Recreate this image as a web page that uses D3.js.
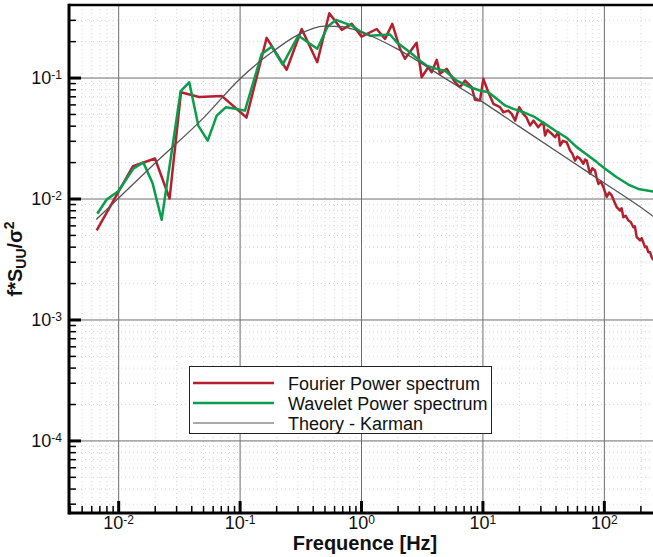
<!DOCTYPE html>
<html>
<head>
<meta charset="utf-8">
<script src="https://cdn.jsdelivr.net/npm/d3@7"></script>
<style>
    body { margin: 0; background: #fff; }
    svg { display: block; font-family: "Liberation Sans", Arial, Helvetica, sans-serif; }
    .minor-grid line { stroke: #d6d6d6; stroke-width: 1; stroke-dasharray: 1,3; }
    .major-grid line { stroke: #6e6e6e; stroke-width: 1; }
    .grid path, .axis path { stroke: none; }
</style>
</head>
<body>
<div id="chart-container"></div>
<script>
// Frequencies [Hz] and normalised spectrum values
const fourierSpectrum = [
    [0.00665, 0.00545], [0.01324, 0.0185], [0.0201, 0.0214], [0.0265, 0.0100], [0.0329, 0.0756],
    [0.0463, 0.0690], [0.0716, 0.0703], [0.114, 0.0467], [0.167, 0.213], [0.244, 0.116],
    [0.325, 0.252], [0.436, 0.134], [0.548, 0.340], [0.694, 0.248], [0.838, 0.278],
    [1.01, 0.218], [1.346, 0.252], [1.577, 0.209], [1.81, 0.278], [2.095, 0.173],
    [2.30, 0.143], [2.87, 0.194], [3.16, 0.1005], [3.58, 0.1216], [3.82, 0.1106],
    [4.20, 0.140], [4.47, 0.1073], [5.08, 0.118], [5.95, 0.0914], [6.54, 0.0832],
    [7.19, 0.0944], [8.16, 0.0832], [8.69, 0.0655], [9.55, 0.0646], [10.17, 0.0976],
    [11.19, 0.0756], [12.3, 0.0607], [13.96, 0.0569], [14.86, 0.0517], [16.34, 0.0533],
    [17.42, 0.0501], [18.6, 0.0441], [20.1, 0.0569], [21.7, 0.0501], [23.0, 0.0470],
    [24.7, 0.0401], [26.3, 0.0441], [28.8, 0.0388], [30.2, 0.0410], [31.7, 0.0427],
    [32.8, 0.0332], [34.4, 0.0370], [36.0, 0.0353], [37.8, 0.0338], [39.6, 0.0321],
    [42.2, 0.0353], [43.6, 0.0274], [46.0, 0.0300], [49.4, 0.0292], [51.0, 0.0270],
    [52.7, 0.0249], [55.0, 0.0235], [57.9, 0.0206], [60.5, 0.0222], [63.7, 0.0213],
    [67.8, 0.0194], [70.0, 0.0210], [72.3, 0.0206], [76.9, 0.0160], [80.5, 0.0178],
    [84.7, 0.0170], [87.0, 0.0150], [90.2, 0.0132], [94.5, 0.0138], [99.1, 0.0124],
    [105.6, 0.0103], [110.5, 0.0112], [116.1, 0.0106], [121.5, 0.0095], [127.7, 0.00848],
    [135.9, 0.00796], [140.0, 0.0083], [144.8, 0.00700], [151.5, 0.0072], [159.2, 0.00658],
    [166.5, 0.0064], [175.0, 0.00579], [180.0, 0.0059], [186.6, 0.00479], [198.6, 0.00450],
    [205, 0.0047], [218.3, 0.00396], [225, 0.0040], [232.3, 0.00360], [240, 0.0036],
    [247.9, 0.00327], [256, 0.0031]
];

const waveletSpectrum = [
    [0.00673, 0.00748], [0.00804, 0.00982], [0.01002, 0.01149], [0.0133, 0.0176], [0.0161, 0.0199],
    [0.0192, 0.0134], [0.0228, 0.00667], [0.0327, 0.0771], [0.0385, 0.0914], [0.0457, 0.0401],
    [0.0546, 0.0301], [0.0648, 0.0485], [0.0773, 0.0569], [0.0946, 0.0550], [0.1107, 0.0533],
    [0.152, 0.157], [0.184, 0.180], [0.226, 0.128], [0.305, 0.222], [0.436, 0.173],
    [0.532, 0.264], [0.622, 0.300], [0.838, 0.269], [0.982, 0.241], [1.186, 0.222],
    [1.733, 0.227], [1.968, 0.196], [2.53, 0.162], [3.06, 0.138], [3.48, 0.1256],
    [4.20, 0.118], [4.92, 0.114], [6.14, 0.0944], [7.90, 0.0832], [9.55, 0.0781],
    [11.19, 0.0756], [13.12, 0.0667], [15.35, 0.0588], [17.98, 0.0551], [21.7, 0.0517],
    [27.1, 0.0470], [32.8, 0.0414], [39.6, 0.0365], [49.4, 0.0318], [59.8, 0.0266],
    [72.3, 0.0231], [87.4, 0.0200], [102.3, 0.0176], [127.7, 0.0150], [159.2, 0.01305],
    [192.3, 0.0120], [256, 0.01140]
];

const karmanTheory = [
    [0.0066, 0.0067], [0.01, 0.0100], [0.02, 0.0195], [0.05, 0.046], [0.1, 0.097],
    [0.2, 0.172], [0.3, 0.224], [0.5, 0.266], [0.7, 0.263], [1, 0.238],
    [2, 0.172], [5, 0.0975], [10, 0.0630], [20, 0.0395], [50, 0.0214],
    [100, 0.0135], [200, 0.0085], [256, 0.0071]
];

const seriesNames = ['Fourier Power spectrum', 'Wavelet Power spectrum', 'Theory - Karman'];
const xMajorTicks = [1e-2, 1e-1, 1, 10, 100];
const xTickExponents = ['-2', '-1', '0', '1', '2'];
const yMajorTicks = [1e-4, 1e-3, 1e-2, 1e-1];
const yTickExponents = ['-4', '-3', '-2', '-1'];

const W = 653, H = 557;
const plot = { left: 69, right: 653, top: 5, bottom: 513 };

const svg = d3.select('#chart-container')
    .append('svg')
    .attr('width', W)
    .attr('height', H);

const x = d3.scaleLog()
    .domain([0.003935, 254])
    .range([plot.left, plot.right]);

const y = d3.scaleLog()
    .domain([2.512e-5, 0.398])
    .range([plot.bottom, plot.top]);

// minor tick positions (2..9 x each decade) inside the domain
function minorTicks(scale) {
    const [a, b] = scale.domain();
    const out = [];
    for (let e = Math.floor(Math.log10(a)); e <= Math.ceil(Math.log10(b)); e++) {
        for (let m = 2; m <= 9; m++) {
            const v = m * Math.pow(10, e);
            if (v > a && v < b) out.push(v);
        }
    }
    return out;
}
const xMinor = minorTicks(x);
const yMinor = minorTicks(y);

// dotted minor grid
svg.append('g')
    .attr('class', 'grid minor-grid')
    .attr('transform', `translate(0,${plot.top})`)
    .call(d3.axisBottom(x).tickValues(xMinor).tickSize(plot.bottom - plot.top).tickFormat(() => ''));
svg.append('g')
    .attr('class', 'grid minor-grid')
    .attr('transform', `translate(${plot.left},0)`)
    .call(d3.axisRight(y).tickValues(yMinor).tickSize(plot.right - plot.left).tickFormat(() => ''));

// solid major grid
svg.append('g')
    .attr('class', 'grid major-grid')
    .attr('transform', `translate(0,${plot.top})`)
    .call(d3.axisBottom(x).tickValues(xMajorTicks).tickSize(plot.bottom - plot.top).tickFormat(() => ''));
svg.append('g')
    .attr('class', 'grid major-grid')
    .attr('transform', `translate(${plot.left},0)`)
    .call(d3.axisRight(y).tickValues(yMajorTicks).tickSize(plot.right - plot.left).tickFormat(() => ''));

svg.selectAll('.grid text').remove();

// clip for the data lines
svg.append('defs').append('clipPath')
    .attr('id', 'plot-clip')
    .append('rect')
    .attr('x', plot.left)
    .attr('y', plot.top)
    .attr('width', plot.right - plot.left)
    .attr('height', plot.bottom - plot.top);

const line = d3.line()
    .x(d => x(d[0]))
    .y(d => y(d[1]));

const lines = svg.append('g').attr('clip-path', 'url(#plot-clip)');

const seriesStyle = [
    { data: fourierSpectrum, color: '#b5202e', width: 2.5, curve: d3.curveLinear },
    { data: waveletSpectrum, color: '#0a9d4b', width: 2.5, curve: d3.curveLinear },
    { data: karmanTheory, color: '#555555', width: 1.3, curve: d3.curveMonotoneX }
];

seriesStyle.forEach(s => {
    lines.append('path')
        .datum(s.data)
        .attr('fill', 'none')
        .attr('stroke', s.color)
        .attr('stroke-width', s.width)
        .attr('stroke-linejoin', 'round')
        .attr('d', line.curve(s.curve));
});

// axes: major + minor ticks pointing inward
function superscriptLabels(g, exps) {
    g.selectAll('.tick text').each(function (d, i) {
        const t = d3.select(this);
        t.text(null)
            .attr('font-size', 18)
            .attr('fill', '#111');
        t.append('tspan').text('10');
        t.append('tspan').attr('dy', '-0.42em').attr('font-size', 12).text(exps[i]);
    });
}

const xAxisMajor = svg.append('g')
    .attr('class', 'axis')
    .attr('transform', `translate(0,${plot.bottom})`)
    .call(d3.axisBottom(x).tickValues(xMajorTicks).tickSize(-12).tickPadding(3));
xAxisMajor.selectAll('.tick line').attr('stroke', '#000').attr('stroke-width', 3);
superscriptLabels(xAxisMajor, xTickExponents);

svg.append('g')
    .attr('class', 'axis')
    .attr('transform', `translate(0,${plot.bottom})`)
    .call(d3.axisBottom(x).tickValues(xMinor).tickSize(-7).tickFormat(() => ''))
    .selectAll('.tick line').attr('stroke', '#000').attr('stroke-width', 1.5);

const yAxisMajor = svg.append('g')
    .attr('class', 'axis')
    .attr('transform', `translate(${plot.left},0)`)
    .call(d3.axisLeft(y).tickValues(yMajorTicks).tickSize(-12).tickPadding(7));
yAxisMajor.selectAll('.tick line').attr('stroke', '#000').attr('stroke-width', 3);
superscriptLabels(yAxisMajor, yTickExponents);

svg.append('g')
    .attr('class', 'axis')
    .attr('transform', `translate(${plot.left},0)`)
    .call(d3.axisLeft(y).tickValues(yMinor).tickSize(-7).tickFormat(() => ''))
    .selectAll('.tick line').attr('stroke', '#000').attr('stroke-width', 1.5);

// frame
svg.append('line')
    .attr('x1', plot.left).attr('x2', plot.right)
    .attr('y1', plot.top).attr('y2', plot.top)
    .attr('stroke', '#000').attr('stroke-width', 2.5);
svg.append('line')
    .attr('x1', plot.left).attr('x2', plot.right)
    .attr('y1', plot.bottom).attr('y2', plot.bottom)
    .attr('stroke', '#000').attr('stroke-width', 3);
svg.append('line')
    .attr('x1', plot.left).attr('x2', plot.left)
    .attr('y1', plot.top - 1.25).attr('y2', plot.bottom + 1.5)
    .attr('stroke', '#000').attr('stroke-width', 3);

// axis titles
svg.append('text')
    .attr('x', 365)
    .attr('y', 550)
    .attr('text-anchor', 'middle')
    .attr('font-size', 20)
    .attr('font-weight', 'bold')
    .attr('fill', '#111')
    .text('Frequence [Hz]');

const yTitle = svg.append('text')
    .attr('transform', 'translate(22,259) rotate(-90)')
    .attr('text-anchor', 'middle')
    .attr('font-size', 20)
    .attr('font-weight', 'bold')
    .attr('fill', '#111');
yTitle.append('tspan').text('f*S');
yTitle.append('tspan').attr('font-size', 14).attr('dy', 4).text('UU');
yTitle.append('tspan').attr('dy', -4).text('/σ');
yTitle.append('tspan').attr('font-size', 14).attr('dy', -8).text('2');

// legend
const legend = svg.append('g');
legend.append('rect')
    .attr('x', 189.5).attr('y', 366.5)
    .attr('width', 302).attr('height', 67)
    .attr('fill', '#fff')
    .attr('stroke', '#222')
    .attr('stroke-width', 1);

seriesNames.forEach((name, i) => {
    const ly = 383 + i * 20;
    legend.append('line')
        .attr('x1', 193).attr('x2', 274)
        .attr('y1', ly).attr('y2', ly)
        .attr('stroke', seriesStyle[i].color)
        .attr('stroke-width', i === 2 ? 1 : 2.5);
    legend.append('text')
        .attr('x', 288)
        .attr('y', ly + 6.5)
        .attr('font-size', 18)
        .attr('fill', '#111')
        .text(name);
});
</script>
</body>
</html>
